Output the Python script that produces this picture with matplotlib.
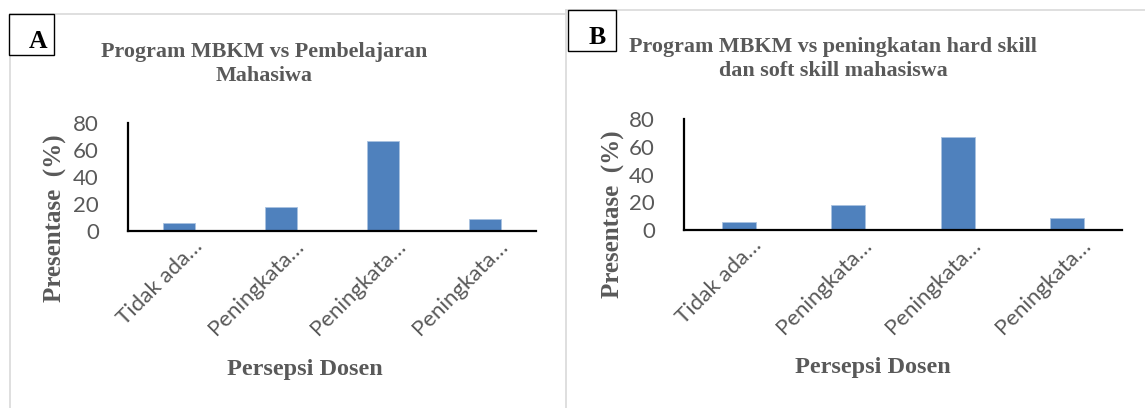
import matplotlib
matplotlib.use("Agg")
import matplotlib.pyplot as plt
import matplotlib.transforms as mtransforms
from matplotlib.patches import Rectangle
from matplotlib.lines import Line2D

W, H = 1145, 408

categories = ["Tidak ada…", "Peningkata…", "Peningkata…", "Peningkata…"]
values_a = [5.6, 17.8, 66.7, 8.9]
values_b = [5.6, 17.8, 66.7, 8.9]
yticks = [0, 20, 40, 60, 80]

title_a = "Program MBKM vs Pembelajaran\nMahasiwa"
title_b = "Program MBKM vs peningkatan hard skill\ndan soft skill mahasiswa"
ylabel = "Presentase  (%)"
xlabel = "Persepsi Dosen"

BAR = "#4f81bd"
GREY = "#595959"
FRAME = "#d9d9d9"
SERIF = "Liberation Serif"
SANS = ["Lato", "DejaVu Sans"]


def fx(px):
    return px / W


def fy(py):
    return 1 - py / H


def panel(fig, values, title, box, left, right, top, bottom, tcx, tcy, ylx, yly, xlx, xly):
    ax = fig.add_axes([fx(left), fy(bottom), fx(right - left), (bottom - top) / H])
    x = range(len(values))
    ax.bar(x, values, width=0.31, color=BAR, edgecolor="#a9c2e0", linewidth=0.6)
    ax.set_xlim(-0.5, len(values) - 0.5)
    ax.set_ylim(0, 80)
    ax.set_yticks(yticks)
    ax.set_xticks(list(x))
    ax.set_xticklabels(categories)
    for s in ("top", "right"):
        ax.spines[s].set_visible(False)
    for s in ("left", "bottom"):
        ax.spines[s].set_linewidth(1.6)
        ax.spines[s].set_color("black")
    ax.tick_params(axis="both", length=0, labelcolor=GREY, labelsize=16)
    ax.tick_params(axis="y", pad=21)
    ax.tick_params(axis="x", pad=2)
    shift = mtransforms.ScaledTranslation(13 / 100, -2 / 100, fig.dpi_scale_trans)
    for lab in ax.get_xticklabels():
        lab.set_rotation(45)
        lab.set_ha("right")
        lab.set_va("top")
        lab.set_rotation_mode("anchor")
        lab.set_family(SANS)
        lab.set_transform(lab.get_transform() + shift)
    for lab in ax.get_yticklabels():
        lab.set_family(SANS)

    fig.text(fx(tcx), fy(tcy), title, ha="center", va="center", fontsize=15.8,
             fontweight="bold", family=SERIF, color=GREY, linespacing=1.25)
    fig.text(fx(ylx), fy(yly), ylabel, ha="center", va="center", rotation=90,
             fontsize=18, fontweight="bold", family=SERIF, color=GREY)
    fig.text(fx(xlx), fy(xly), xlabel, ha="center", va="center", fontsize=17.5,
             fontweight="bold", family=SERIF, color=GREY)

    bx0, by0, bx1, by1, letter, lx, ly = box
    fig.patches.append(Rectangle((fx(bx0), fy(by1)), fx(bx1 - bx0), (by1 - by0) / H,
                                 transform=fig.transFigure, facecolor="white",
                                 edgecolor="black", linewidth=1.0, zorder=5))
    fig.text(fx(lx), fy(ly), letter, ha="center", va="center", fontsize=18.5,
             fontweight="bold", family=SERIF, color="black", zorder=6)
    return ax


fig = plt.figure(figsize=(W / 100, H / 100), dpi=100)

# light panel frames
frame = [((10, 10), (14, 408)), ((10, 566), (14, 14)), ((566, 566), (10, 408)),
         ((566, 1145), (10, 10))]
for xs, ys in frame:
    fig.lines.append(Line2D([fx(v) for v in xs], [fy(v) for v in ys],
                            transform=fig.transFigure, color=FRAME, linewidth=1.2))

panel(fig, values_a, title_a, (9, 14, 54, 55, "A", 38, 41),
      128, 536, 123, 231, 264, 64, 55, 218, 305, 369)
panel(fig, values_b, title_b, (568, 10, 616, 51, "B", 597, 37),
      684, 1122, 119, 230, 833, 59, 613, 214, 873, 368)

fig.savefig("out.png", dpi=100)
